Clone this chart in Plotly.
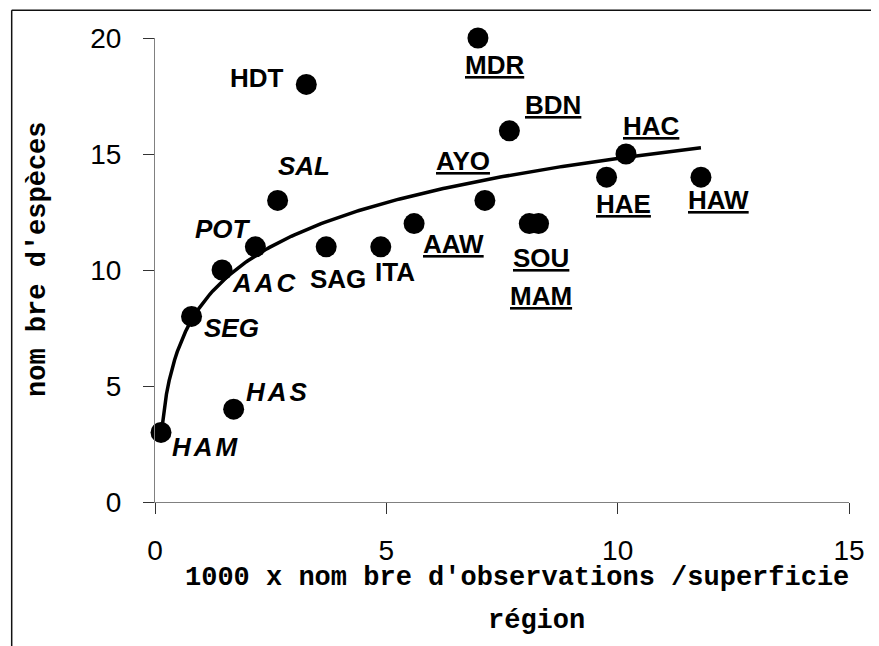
import numpy as np
import plotly.graph_objects as go

# ---- data ----
regions = ["HAM", "SEG", "AAC", "HAS", "POT", "SAL", "HDT", "SAG", "ITA", "AAW",
           "MDR", "AYO", "BDN", "SOU", "MAM", "HAE", "HAC", "HAW"]
obs_density = [0.13, 0.79, 1.45, 1.70, 2.17, 2.65, 3.27, 3.70, 4.88, 5.60,
               6.98, 7.13, 7.66, 8.09, 8.29, 9.76, 10.18, 11.80]
n_species = [3, 8, 10, 4, 11, 13, 18, 11, 11, 12,
             20, 13, 16, 12, 12, 14, 15, 14]
x_ticks = [0, 5, 10, 15]
y_ticks = [0, 5, 10, 15, 20]

# label styles: "i" italic bold, "u" underlined bold, "b" plain bold
label_style = {"HAM": "i", "SEG": "i", "AAC": "i", "HAS": "i", "POT": "i", "SAL": "i",
               "HDT": "b", "SAG": "b", "ITA": "b",
               "AAW": "u", "MDR": "u", "AYO": "u", "BDN": "u", "SOU": "u", "MAM": "u",
               "HAE": "u", "HAC": "u", "HAW": "u"}
spaced = {"AAC", "HAS", "HAM"}
# label offsets in pixels (dx right, dy up)
label_offset = {"HAM": (45, -18), "SEG": (40, -15), "AAC": (43, -16), "HAS": (44, 14),
                "POT": (-32, 15), "SAL": (26, 31), "HDT": (-49, 3), "SAG": (12, -35),
                "ITA": (14, -28), "AAW": (39, -23), "MDR": (17, -30), "AYO": (-22, 36),
                "BDN": (44, 23), "SOU": (12, -37), "MAM": (2, -75), "HAE": (17, -30),
                "HAC": (26, 25), "HAW": (18, -26)}

# logarithmic trend line (least squares on ln x, as a spreadsheet trendline)
xa = np.array(obs_density)
ya = np.array(n_species)
a, b = np.polyfit(np.log(xa), ya, 1)
xt = np.linspace(xa.min(), xa.max(), 200)
yt = a * np.log(xt) + b

fig = go.Figure()
fig.add_trace(go.Scatter(x=xt, y=yt, mode="lines", cliponaxis=False,
                         line=dict(color="black", width=3.5), hoverinfo="skip"))
fig.add_trace(go.Scatter(x=obs_density, y=n_species, mode="markers", cliponaxis=False,
                         marker=dict(color="black", size=21), text=regions))

lab_font = dict(family="Liberation Sans, Arial, sans-serif", size=26, color="black")
for r, x, y in zip(regions, obs_density, n_species):
    st = label_style[r]
    inner = r
    if r in spaced:
        inner = '<span style="letter-spacing:3px">%s</span>' % r
    if st == "i":
        t = "<b><i>%s</i></b>" % inner
    elif st == "u":
        t = "<b><u>%s</u></b>" % inner
    else:
        t = "<b>%s</b>" % inner
    dx, dy = label_offset[r]
    fig.add_annotation(x=x, y=y, text=t, showarrow=False, xshift=dx, yshift=dy + 3,
                       xanchor="center", yanchor="middle", font=lab_font)

mono = dict(family="Liberation Mono, Courier New, monospace", size=27, color="black")
fig.add_annotation(xref="paper", yref="paper", x=0.521, y=-0.1644,
                   text="<b>1000 x nom bre d'observations /superficie</b>",
                   showarrow=False, xanchor="center", yanchor="middle", font=mono)
fig.add_annotation(xref="paper", yref="paper", x=0.549, y=-0.2571,
                   text="<b>région</b>", showarrow=False,
                   xanchor="center", yanchor="middle", font=mono)
fig.add_annotation(xref="paper", yref="paper", x=-0.1677, y=0.523,
                   text="<b>nom bre d'espèces</b>", showarrow=False, textangle=-90,
                   xanchor="center", yanchor="middle", font=mono)

# outer frame (partly cropped in the reference)
fig.add_shape(type="line", xref="paper", yref="paper", x0=-0.2065, y0=1.0597,
              x1=1.3, y1=1.0597, line=dict(color="#111", width=1.5))
fig.add_shape(type="line", xref="paper", yref="paper", x0=-0.2065, y0=1.0597,
              x1=-0.2065, y1=-0.4, line=dict(color="#111", width=1.5))

axis_common = dict(showgrid=False, zeroline=False, showline=True, linecolor="#808080",
                   linewidth=1, ticks="outside", ticklen=11, tickcolor="#333",
                   tickwidth=1, tickfont=dict(family="Liberation Sans, Arial, sans-serif",
                                               size=28, color="black"))
fig.update_xaxes(range=[0, 15], tickvals=x_ticks, ticklabelstandoff=12, **axis_common)
fig.update_yaxes(range=[0, 20], tickvals=y_ticks, ticklabelstandoff=16, **axis_common)

# page body adds an 8px offset, so margins are shifted to land on the reference pixels
fig.update_layout(width=879, height=646, showlegend=False,
                  plot_bgcolor="white", paper_bgcolor="white",
                  margin=dict(l=146.5, r=37.7, t=29.7, b=152.3, autoexpand=False))
fig.write_html("out.html")
